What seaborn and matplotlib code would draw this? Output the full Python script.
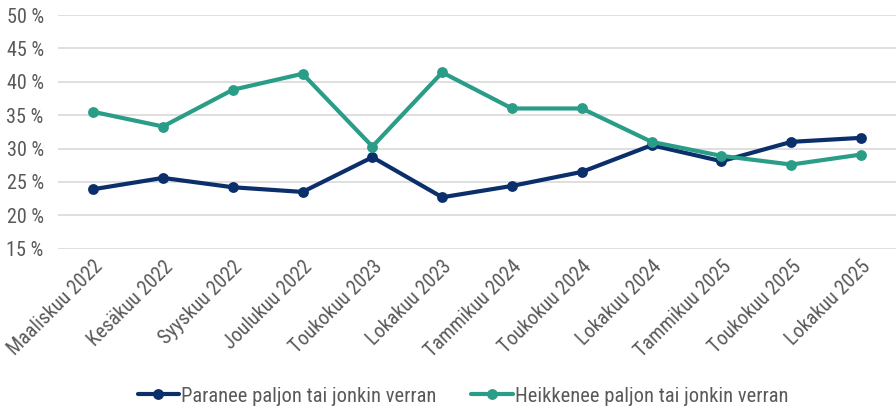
import matplotlib
matplotlib.use("Agg")
import matplotlib.pyplot as plt
import seaborn as sns
import pandas as pd

# --- Data ---
periods = ["Maaliskuu 2022", "Kesäkuu 2022", "Syyskuu 2022", "Joulukuu 2022",
           "Toukokuu 2023", "Lokakuu 2023", "Tammikuu 2024", "Toukokuu 2024",
           "Lokakuu 2024", "Tammikuu 2025", "Toukokuu 2025", "Lokakuu 2025"]
paranee = [23.9, 25.6, 24.2, 23.5, 28.7, 22.7, 24.4, 26.5, 30.5, 28.1, 31.0, 31.6]
heikkenee = [35.5, 33.3, 38.8, 41.2, 30.3, 41.4, 36.0, 36.0, 31.0, 28.9, 27.6, 29.1]
series_names = ["Paranee paljon tai jonkin verran", "Heikkenee paljon tai jonkin verran"]
colors = ["#0B2F6B", "#2A9D88"]

df = pd.DataFrame({"period": periods, series_names[0]: paranee, series_names[1]: heikkenee})
long_df = df.melt(id_vars="period", var_name="series", value_name="value")

# --- Plot Setup ---
sns.set_style("white")
plt.rcParams["font.family"] = ["Roboto Condensed", "Liberation Sans Narrow", "Roboto", "DejaVu Sans"]
text_color = "#595959"

fig = plt.figure(figsize=(8.96, 4.09), dpi=100)
ax = fig.add_axes([0.065, 0.392, 0.935, 0.5713])

sns.lineplot(data=long_df, x="period", y="value", hue="series",
             palette=dict(zip(series_names, colors)), sort=False,
             marker="o", markersize=7.8, markeredgewidth=0, linewidth=3, ax=ax)

ax.set_xlim(-0.5, len(periods) - 0.5)
ax.set_ylim(15, 50)
ax.set_yticks(range(15, 51, 5))
ax.set_yticklabels([f"{v} %" for v in range(15, 51, 5)])
ax.yaxis.grid(True, color="#D9D9D9", linewidth=1.2)
ax.set_axisbelow(True)
for s in ax.spines.values():
    s.set_visible(False)
ax.set_xlabel("")
ax.set_ylabel("")
ax.tick_params(axis="both", length=0, colors=text_color, labelsize=14.5)
ax.tick_params(axis="y", pad=10.5)
ax.tick_params(axis="x", pad=6)
ax.set_xticks(range(len(periods)))
ax.set_xticklabels(periods, rotation=45, ha="right", rotation_mode="anchor")

handles, labels = ax.get_legend_handles_labels()
ax.get_legend().remove()
leg = fig.legend(handles, labels, loc="center", bbox_to_anchor=(463 / 896, 1 - 396 / 409),
                 ncol=2, frameon=False, fontsize=14.8, handlelength=2.0,
                 handletextpad=0.1, columnspacing=1.7)
for t in leg.get_texts():
    t.set_color(text_color)

fig.savefig("out.png", dpi=100)
